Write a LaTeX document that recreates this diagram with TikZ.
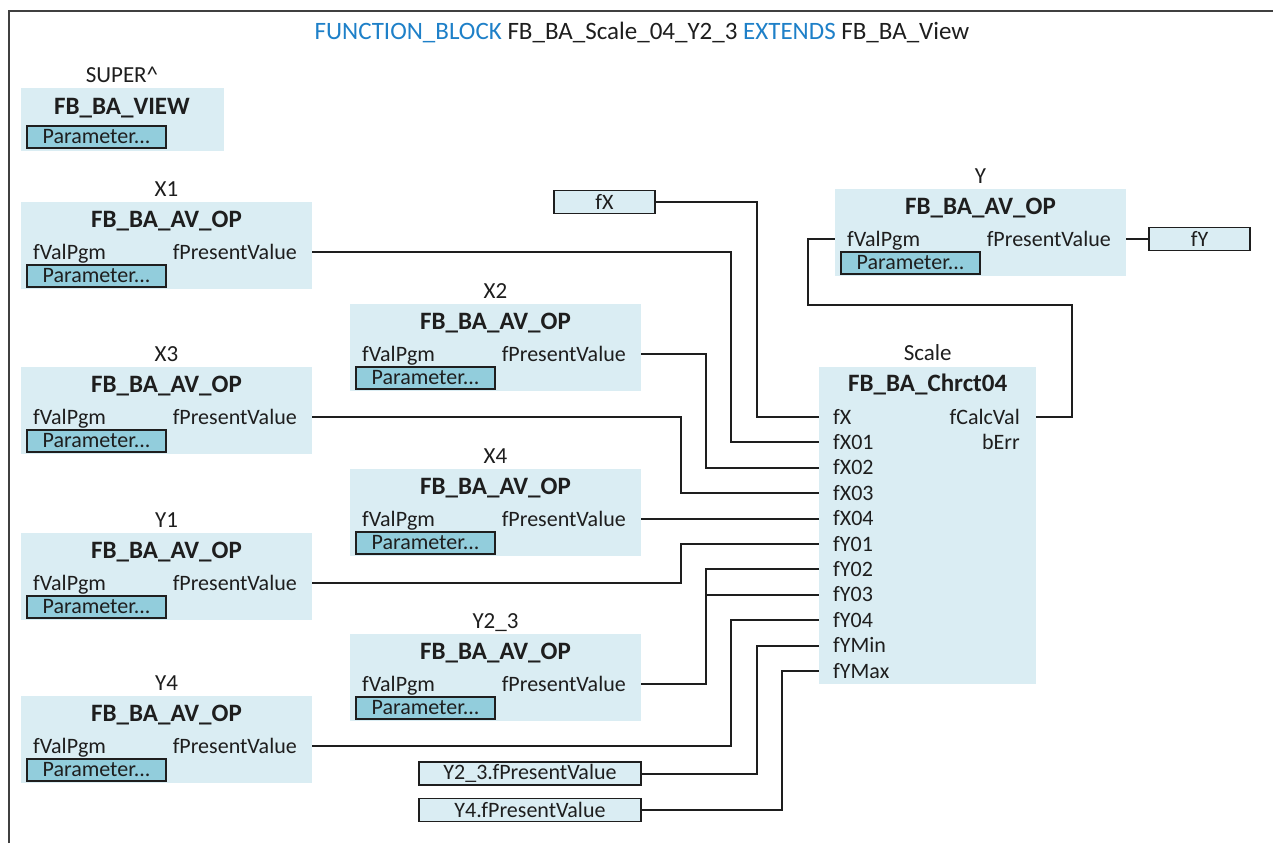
\documentclass[tikz,border=0pt]{standalone}
\usepackage{fontspec}
\setmainfont{Carlito}
\usetikzlibrary{calc}

\definecolor{blockfill}{RGB}{218,237,243}
\definecolor{paramfill}{RGB}{146,205,220}
\definecolor{kwblue}{RGB}{30,128,200}
\definecolor{ink}{RGB}{30,30,30}

\tikzset{
  blk/.style={fill=blockfill, draw=none, anchor=north west, inner sep=0pt},
  inst/.style={font=\fontsize{23}{27}\selectfont, text=ink, inner sep=0pt, text height=19pt, text depth=4pt},
  ttl/.style={font=\fontsize{25}{29}\selectfont\bfseries, text=ink, inner sep=0pt, text height=20pt, text depth=4pt},
  port/.style={font=\fontsize{22}{26}\selectfont, text=ink, inner sep=0pt, text height=18pt, text depth=4pt},
  parbox/.style={draw=ink, line width=1.4pt, fill=paramfill, minimum width=139pt, minimum height=22pt,
    inner sep=0pt, font=\fontsize{22}{24}\selectfont, text=ink},
  varbox/.style={draw=ink, line width=1.4pt, fill=blockfill, minimum height=23pt,
    inner sep=0pt, font=\fontsize{22}{24}\selectfont, text=ink},
  wire/.style={line width=2pt, draw=ink},
  frame/.style={line width=2.5pt, draw=black!75},
}

% one FB_BA_AV_OP instance: #1 name, #2 instance label, #3/#4 top-left corner
\newcommand\avop[4]{%
  \node[blk, minimum width=291pt, minimum height=87pt] (#1) at (#3,#4) {};
  \node[inst] (#1-lbl) at ($(#1.north west)+(145.5,-13)$) {#2};
  \node[ttl]  (#1-ttl) at ($(#1.north west)+(145.5,17)$) {FB\_BA\_AV\_OP};
  \node[port, anchor=west] (#1-in)  at ($(#1.north west)+(12,50)$)  {fValPgm};
  \node[port, anchor=east] (#1-out) at ($(#1.north west)+(276,50)$) {fPresentValue};
  \node[parbox] (#1-par) at ($(#1.north west)+(75.5,74)$) {Parameter...};
  \coordinate (#1-o) at (#1.east |- #1-out);
  \coordinate (#1-i) at (#1.west |- #1-in);
}

% wire from a source to an input, turning at a bus #3 units left of the input
\newcommand\wireto[3]{\draw[wire] (#1) -| ($(#2)+(-#3,0)$) -- (#2);}

\begin{document}
\begin{tikzpicture}[x=1pt, y=-1pt]
\useasboundingbox (0,0) rectangle (1273,843);

% outer frame
\draw[frame] (9,843) -- (9,11) -- (1273,11);

\node[font=\fontsize{25}{29}\selectfont, text=ink, inner sep=0pt] (title) at (642,32)
  {\textcolor{kwblue}{FUNCTION\_BLOCK} FB\_BA\_Scale\_04\_Y2\_3 \textcolor{kwblue}{EXTENDS} FB\_BA\_View};

% base class view
\node[blk, minimum width=203pt, minimum height=63pt] (super) at (21,88) {};
\node[inst] (super-lbl) at ($(super.north west)+(101,-13)$) {SUPER\textasciicircum};
\node[ttl]  (super-ttl) at ($(super.north west)+(101,18)$) {FB\_BA\_VIEW};
\node[parbox] (super-par) at ($(super.north west)+(75.5,49)$) {Parameter...};

% analog value instances
\avop{x1}{X1}{21}{202}
\avop{x3}{X3}{21}{367}
\avop{y1}{Y1}{21}{533}
\avop{y4}{Y4}{21}{696}
\avop{x2}{X2}{350}{304}
\avop{x4}{X4}{350}{469}
\avop{y23}{Y2\_3}{350}{634}
\avop{yb}{Y}{835}{189}

% characteristic curve block
\node[blk, minimum width=217pt, minimum height=317pt] (sc) at (819,367) {};
\node[inst] (sc-lbl) at ($(sc.north)+(0,-14)$) {Scale};
\node[ttl]  (sc-ttl) at ($(sc.north)+(0,16)$) {FB\_BA\_Chrct04};
\foreach \n/\t [count=\i from 0, evaluate=\i as \yy using 417+25.4*\i] in
  {fx/fX, fx01/fX01, fx02/fX02, fx03/fX03, fx04/fX04, fy01/fY01, fy02/fY02,
   fy03/fY03, fy04/fY04, fymin/fYMin, fymax/fYMax}{
  \node[port, anchor=west] (sc-\n) at (833,\yy) {\t};
  \coordinate (in-\n) at (sc.west |- sc-\n);
}
\node[port, anchor=east] (sc-calc) at (1020,417) {fCalcVal};
\node[port, anchor=east] (sc-err)  at (1020,442.4) {bErr};
\coordinate (sc-o) at (sc.east |- sc-calc);

% variables
\node[varbox, minimum width=101pt] (fxbox) at (604.5,202) {fX};
\node[varbox, minimum width=101pt] (fybox) at (1199.5,239) {fY};
\node[varbox, minimum width=222pt] (y23pv) at (530,773.5) {Y2\_3.fPresentValue};
\node[varbox, minimum width=222pt] (y4pv)  at (530,810)   {Y4.fPresentValue};

% connections into the Scale block
\wireto{fxbox.east}{in-fx}{62}
\wireto{x1-o}{in-fx01}{88}
\wireto{x2-o}{in-fx02}{113}
\wireto{x3-o}{in-fx03}{138}
\draw[wire] (x4-o) -- (x4-o -| sc.west);
\wireto{y1-o}{in-fy01}{138}
\wireto{y23-o}{in-fy02}{113}
\draw[wire] ($(in-fy03)+(-113,0)$) -- (in-fy03);
\wireto{y4-o}{in-fy04}{88}
\wireto{y23pv.east}{in-fymin}{62}
\wireto{y4pv.east}{in-fymax}{37}

% feedback of the calculated value and the output variable
\draw[wire] (sc-o) -- ++(36,0) -- ++(0,-112) -| ($(yb-i)+(-27,0)$) -- (yb-i);
\draw[wire] (yb-o) -- (yb-o -| fybox.west);
\end{tikzpicture}
\end{document}
